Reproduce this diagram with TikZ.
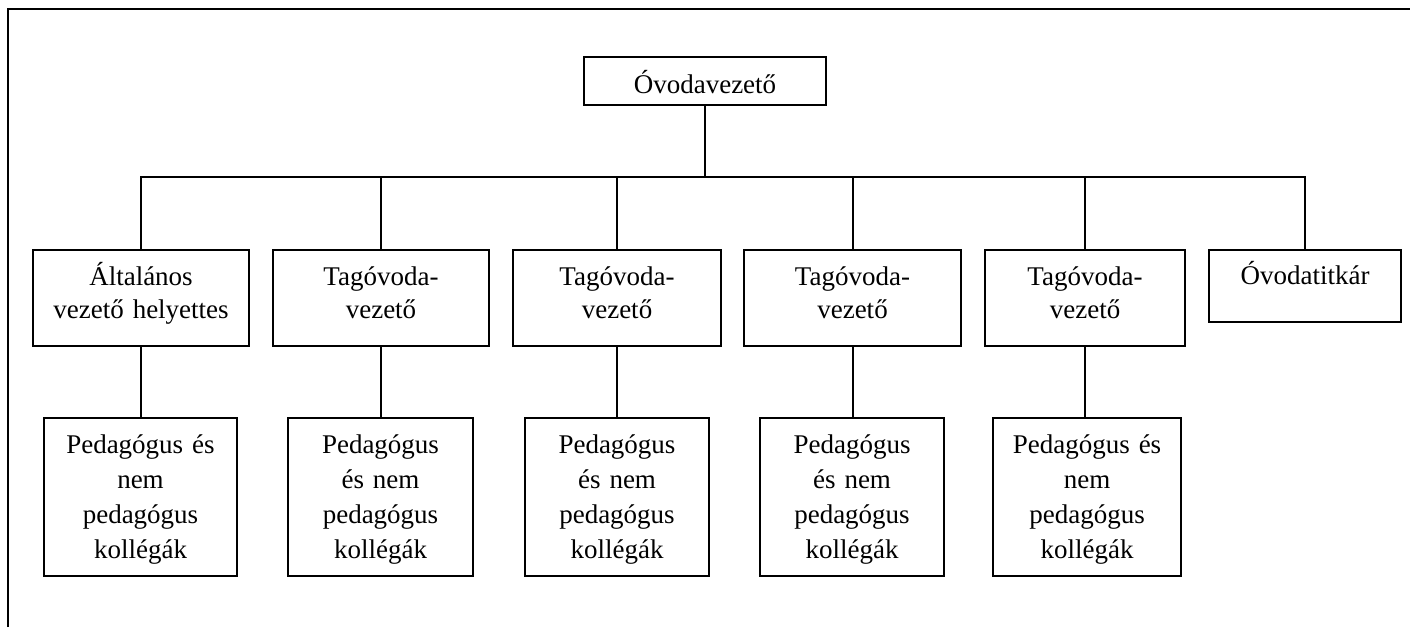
\documentclass[tikz,border=0pt]{standalone}
\usepackage{fontspec}
\setmainfont{Liberation Serif}
\begin{document}
\begin{tikzpicture}[x=1pt,y=-1pt]
\tikzset{
  box/.style={draw=black, line width=2pt, inner sep=0pt, align=center, anchor=north west,
    font=\fontsize{27}{33}\selectfont},
  lvltwo/.style={box, text height=35pt, text depth=61pt},
  lvlthree/.style={box, text height=35pt, text depth=123pt, font=\fontsize{27}{35}\selectfont},
  link/.style={line width=2pt},
  frame/.style={line width=2.5pt},
}
\useasboundingbox (0,0) rectangle (1410,627);
% outer frame
\draw[frame] (8,627) -- (8,9) -- (1410,9);

% top
\node[box, text width=242pt, text height=36pt, text depth=12pt] (T) at (583,56) {Óvodavezető};

% second row
\node[lvltwo, text width=216pt] (A1) at (32,249) {Általános\\vezető helyettes};
\node[lvltwo, text width=216pt] (A2) at (272,249) {Tagóvoda-\\vezető};
\node[lvltwo, text width=208pt] (A3) at (512,249) {Tagóvoda-\\vezető};
\node[lvltwo, text width=217pt] (A4) at (743,249) {Tagóvoda-\\vezető};
\node[lvltwo, text width=200pt] (A5) at (984,249) {Tagóvoda-\\vezető};
\node[box, text width=192pt, text height=34pt, text depth=38pt] (A6) at (1208,249) {Óvodatitkár};

% third row
\node[lvlthree, text width=193pt] (B1) at (43,417) {Pedagógus és\\nem\\pedagógus\\kollégák};
\node[lvlthree, text width=185pt] (B2) at (287,417) {Pedagógus\\és nem\\pedagógus\\kollégák};
\node[lvlthree, text width=184pt] (B3) at (524,417) {Pedagógus\\és nem\\pedagógus\\kollégák};
\node[lvlthree, text width=184pt] (B4) at (759,417) {Pedagógus\\és nem\\pedagógus\\kollégák};
\node[lvlthree, text width=188pt] (B5) at (992,417) {Pedagógus és\\nem\\pedagógus\\kollégák};

% connectors
\coordinate (bus) at (704,177);
\draw[link] (T.south) -- (T.south |- bus);
\draw[link] (A1.north) -- (A1.north |- bus) -- (A6.north |- bus) -- (A6.north);
\foreach \n in {A2,A3,A4,A5} \draw[link] (\n.north) -- (\n.north |- bus);
\foreach \i in {1,...,5} \draw[link] (A\i.south) -- (A\i.south |- B\i.north);
\end{tikzpicture}
\end{document}
